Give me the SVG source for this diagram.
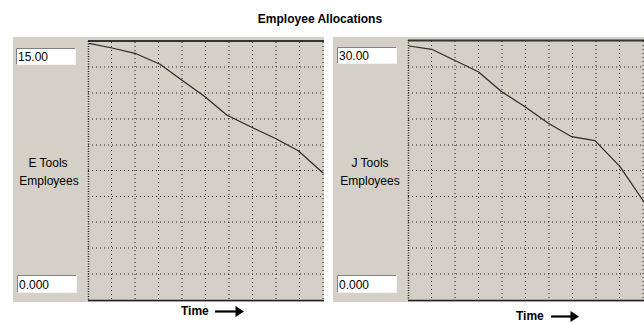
<svg xmlns="http://www.w3.org/2000/svg" width="644" height="324" viewBox="0 0 644 324">
<style>
.bg{fill:#d4d0c8}
.grid{fill:none;stroke:#1a1a1a;stroke-width:1;stroke-dasharray:1 3}
.yaxis{fill:none;stroke:#1a1a1a;stroke-width:1.5;stroke-dasharray:1 1.5}
.top{stroke:#333;stroke-width:2}
.bottom{stroke:#222;stroke-width:1.5}
.curve{fill:none;stroke:#2a2a2a;stroke-width:1.2;stroke-linejoin:round}
.box{fill:#fff}
.shadowD{fill:none;stroke:#808080;stroke-width:1}
.shadowL{fill:none;stroke:#f4f3f0;stroke-width:1}
.val{font-family:"Liberation Sans",Arial,sans-serif;font-size:12px;fill:#000}
.lbl{font-family:"Liberation Sans",Arial,sans-serif;font-size:12px;fill:#000;text-anchor:middle}
.title{font-family:"Liberation Sans",Arial,sans-serif;font-size:12px;font-weight:bold;fill:#000;text-anchor:middle}
.time{font-family:"Liberation Sans",Arial,sans-serif;font-size:12px;font-weight:bold;fill:#000}
.shaft{stroke:#000;stroke-width:2.2}
.head{fill:#000}
</style>

<g id="title">
<text class="title" x="320" y="23">Employee Allocations</text>
</g>

<g id="chart-e-tools">
<rect class="bg" x="13" y="37" width="311" height="265"/>
<path class="grid" d="M111.5,42V300M135,42V300M158.5,42V300M182,42V300M205.5,42V300M229,42V300M252.5,42V300M276,42V300M299.5,42V300M323,42V300M88,67H323M88,93H323M88,119H323M88,145H323M88,170.5H323M88,196.5H323M88,222H323M88,248H323M88,274H323"/>
<line class="top" x1="88" y1="41" x2="324" y2="41"/>
<line class="yaxis" x1="88.5" y1="41" x2="88.5" y2="300"/>
<line class="bottom" x1="88" y1="300.5" x2="324" y2="300.5"/>
<polyline class="curve" points="89,43.3 112,48 135,53.3 160,64.3 181.7,80 205,96.7 226.7,115 251.7,127.3 275,138.3 298.3,150.7 323.3,173.3"/>
<rect class="box" x="16" y="48" width="60" height="17"/>
<path class="shadowD" d="M16.5,64.5V48.5H75.5"/>
<path class="shadowL" d="M16.5,64.5H75.5V48.5"/>
<text class="val" x="18" y="61">15.00</text>
<rect class="box" x="17" y="275" width="60" height="18"/>
<path class="shadowD" d="M17.5,292.5V275.5H76.5"/>
<path class="shadowL" d="M17.5,292.5H76.5V275.5"/>
<text class="val" x="19" y="289">0.000</text>
<text class="lbl" x="48" y="167">E Tools</text>
<text class="lbl" x="49" y="185">Employees</text>
<text class="time" x="181" y="315">Time</text>
<line class="shaft" x1="215" y1="311.5" x2="237" y2="311.5"/>
<path class="head" d="M235.5,306 L244,311.5 L235.5,317 z"/>
</g>

<g id="chart-j-tools">
<rect class="bg" x="333" y="37" width="311" height="265"/>
<path class="grid" d="M431.5,41V300M455,41V300M478.5,41V300M502,41V300M525.5,41V300M549,41V300M572.5,41V300M596,41V300M619.5,41V300M643,41V300M408,67H644M408,93H644M408,119H644M408,145H644M408,170.5H644M408,196.5H644M408,222H644M408,248H644M408,274H644"/>
<line class="top" x1="408" y1="40.5" x2="644" y2="40.5"/>
<line class="yaxis" x1="408.5" y1="40" x2="408.5" y2="300"/>
<line class="bottom" x1="408" y1="300.5" x2="644" y2="300.5"/>
<polyline class="curve" points="409,46 431.7,49.3 455,60.5 478.3,71.7 501.7,91.7 525,106.7 548.3,123.3 571.7,136.7 595,140.7 620,166.7 644,202"/>
<rect class="box" x="337" y="47" width="60" height="17"/>
<path class="shadowD" d="M337.5,63.5V47.5H396.5"/>
<path class="shadowL" d="M337.5,63.5H396.5V47.5"/>
<text class="val" x="339" y="60">30.00</text>
<rect class="box" x="337" y="275" width="60" height="18"/>
<path class="shadowD" d="M337.5,292.5V275.5H396.5"/>
<path class="shadowL" d="M337.5,292.5H396.5V275.5"/>
<text class="val" x="339" y="289">0.000</text>
<text class="lbl" x="370" y="167">J Tools</text>
<text class="lbl" x="370" y="185">Employees</text>
<text class="time" x="516" y="320">Time</text>
<line class="shaft" x1="551" y1="316.5" x2="572" y2="316.5"/>
<path class="head" d="M570.5,311 L579,316.5 L570.5,322 z"/>
</g>
</svg>
